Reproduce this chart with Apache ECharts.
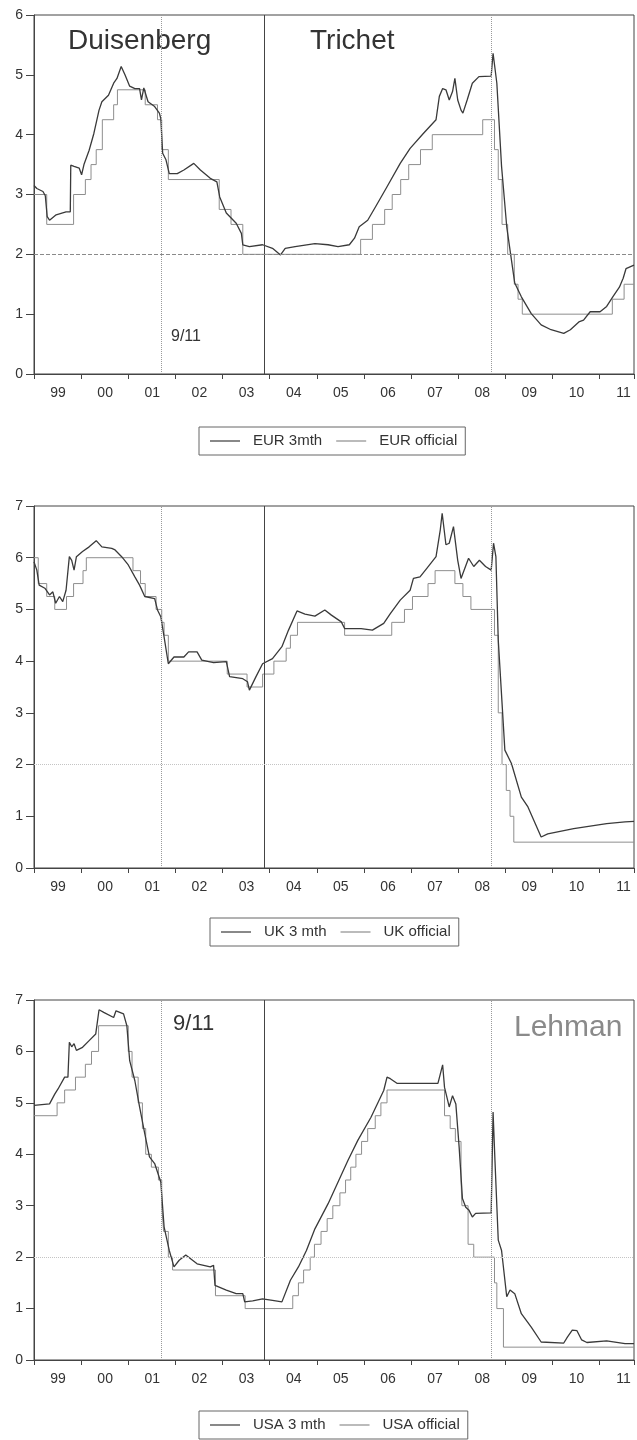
<!DOCTYPE html>
<html>
<head>
<meta charset="utf-8">
<script src="https://cdn.jsdelivr.net/npm/echarts@6/dist/echarts.min.js"></script>
<style>
  html, body { margin: 0; padding: 0; background: #fff; }
  #chart { width: 637px; height: 1440px; }
</style>
</head>
<body>
<div id="chart"></div>
<script>
// x = decimal year, y = rate in %
const yearTicks = ['99', '00', '01', '02', '03', '04', '05', '06', '07', '08', '09', '10', '11'];

const eur3mth = [[1999.00,3.15],[1999.06,3.10],[1999.19,3.05],[1999.24,2.98],[1999.28,2.63],[1999.33,2.57],[1999.47,2.66],[1999.68,2.71],[1999.77,2.71],[1999.78,3.49],
  [1999.85,3.47],[1999.96,3.44],[2000.01,3.33],[2000.06,3.50],[2000.17,3.74],[2000.27,4.02],[2000.38,4.41],[2000.44,4.55],[2000.58,4.66],[2000.69,4.86],
  [2000.76,4.94],[2000.85,5.14],[2000.93,5.00],[2001.03,4.81],[2001.14,4.77],[2001.24,4.77],[2001.28,4.58],[2001.33,4.78],[2001.35,4.80],[2001.42,4.55],
  [2001.56,4.47],[2001.66,4.36],[2001.69,4.27],[2001.73,3.69],[2001.80,3.58],[2001.87,3.35],[2002.04,3.35],[2002.18,3.41],[2002.39,3.52],[2002.53,3.41],
  [2002.74,3.27],[2002.88,3.21],[2002.94,2.96],[2003.08,2.69],[2003.29,2.52],[2003.40,2.35],[2003.43,2.16],[2003.57,2.13],[2003.85,2.16],[2004.06,2.10],
  [2004.23,1.99],[2004.33,2.10],[2004.54,2.13],[2004.96,2.18],[2005.24,2.16],[2005.45,2.13],[2005.69,2.16],[2005.80,2.27],[2005.90,2.46],[2006.08,2.57],
  [2006.25,2.80],[2006.49,3.13],[2006.77,3.52],[2006.98,3.77],[2007.26,4.02],[2007.53,4.25],[2007.60,4.64],[2007.67,4.77],[2007.74,4.75],[2007.81,4.58],
  [2007.88,4.72],[2007.93,4.94],[2007.99,4.58],[2008.06,4.41],[2008.10,4.36],[2008.19,4.58],[2008.30,4.86],[2008.44,4.97],[2008.70,4.98],[2008.74,5.36],
  [2008.77,5.39],[2008.82,4.86],[2008.92,3.47],[2009.03,2.46],[2009.10,2.07],[2009.20,1.52],[2009.34,1.29],[2009.55,1.01],[2009.76,0.82],[2009.97,0.74],
  [2010.24,0.68],[2010.38,0.74],[2010.56,0.87],[2010.66,0.90],[2010.80,1.04],[2011.01,1.04],[2011.15,1.13],[2011.28,1.29],[2011.42,1.45],[2011.50,1.60],
  [2011.56,1.76],[2011.73,1.82]];

// official rates: [date of change, new rate]
const eurOfficial = [[1999.00,3.00],[1999.27,2.50],[1999.84,3.00],[2000.09,3.25],[2000.21,3.50],[2000.32,3.75],[2000.45,4.25],[2000.69,4.50],[2000.77,4.75],
  [2001.36,4.50],[2001.62,4.25],[2001.71,3.75],[2001.85,3.25],[2002.93,2.75],[2003.18,2.50],[2003.43,2.00],[2005.93,2.25],[2006.18,2.50],[2006.44,2.75],
  [2006.60,3.00],[2006.78,3.25],[2006.95,3.50],[2007.20,3.75],[2007.45,4.00],[2008.52,4.25],[2008.77,3.75],[2008.85,3.25],[2008.93,2.50],[2009.05,2.00],
  [2009.19,1.50],[2009.27,1.25],[2009.36,1.00],[2011.27,1.25],[2011.52,1.50],[2011.73,1.50]];

const uk3mth = [[1999.00,5.92],[1999.06,5.76],[1999.11,5.47],[1999.23,5.41],[1999.33,5.28],[1999.40,5.34],[1999.46,5.12],[1999.54,5.25],[1999.61,5.15],[1999.68,5.37],
  [1999.75,6.02],[1999.80,5.95],[1999.85,5.76],[1999.90,6.02],[2000.03,6.12],[2000.17,6.21],[2000.32,6.33],[2000.44,6.21],[2000.65,6.18],[2000.72,6.15],
  [2000.86,6.02],[2001.00,5.86],[2001.14,5.63],[2001.24,5.47],[2001.35,5.25],[2001.56,5.21],[2001.62,4.99],[2001.69,4.86],[2001.76,4.47],[2001.85,3.95],
  [2001.97,4.08],[2002.18,4.08],[2002.28,4.18],[2002.46,4.18],[2002.56,4.02],[2002.81,3.97],[2003.08,3.99],[2003.15,3.70],[2003.43,3.66],[2003.53,3.60],
  [2003.57,3.44],[2003.71,3.70],[2003.85,3.95],[2004.06,4.05],[2004.26,4.28],[2004.40,4.60],[2004.58,4.97],[2004.75,4.91],[2004.96,4.87],[2005.17,4.99],
  [2005.31,4.89],[2005.52,4.76],[2005.59,4.63],[2005.94,4.63],[2006.18,4.60],[2006.42,4.73],[2006.56,4.92],[2006.77,5.18],[2006.98,5.37],[2007.05,5.60],
  [2007.19,5.63],[2007.33,5.79],[2007.53,6.02],[2007.62,6.54],[2007.66,6.86],[2007.74,6.25],[2007.81,6.28],[2007.90,6.60],[2007.99,5.95],[2008.06,5.60],
  [2008.22,5.99],[2008.33,5.83],[2008.45,5.95],[2008.58,5.83],[2008.70,5.76],[2008.75,6.28],[2008.80,6.02],[2008.85,4.41],[2008.99,2.28],[2009.13,2.02],
  [2009.34,1.37],[2009.48,1.18],[2009.76,0.60],[2009.90,0.66],[2010.45,0.76],[2011.15,0.86],[2011.54,0.89],[2011.73,0.90]];

const ukOfficial = [[1999.00,6.00],[1999.09,5.50],[1999.27,5.25],[1999.44,5.00],[1999.69,5.25],[1999.84,5.50],[2000.04,5.75],[2000.11,6.00],[2001.10,5.75],
  [2001.26,5.50],[2001.36,5.25],[2001.59,5.00],[2001.71,4.75],[2001.76,4.50],[2001.85,4.00],[2003.10,3.75],[2003.52,3.50],[2003.85,3.75],[2004.09,4.00],
  [2004.35,4.25],[2004.44,4.50],[2004.59,4.75],[2005.59,4.50],[2006.59,4.75],[2006.86,5.00],[2007.03,5.25],[2007.36,5.50],[2007.51,5.75],[2007.93,5.50],
  [2008.10,5.25],[2008.27,5.00],[2008.77,4.50],[2008.85,3.00],[2008.93,2.00],[2009.02,1.50],[2009.10,1.00],[2009.18,0.50],[2011.73,0.50]];

const usa3mth = [[1999.00,4.95],[1999.33,4.98],[1999.44,5.17],[1999.51,5.27],[1999.65,5.50],[1999.72,5.50],[1999.75,6.18],[1999.80,6.09],[1999.85,6.15],[1999.90,6.02],
  [2000.03,6.08],[2000.17,6.21],[2000.31,6.34],[2000.38,6.81],[2000.48,6.76],[2000.69,6.66],[2000.74,6.79],[2000.90,6.73],[2000.97,6.50],[2001.03,5.82],
  [2001.14,5.43],[2001.24,4.92],[2001.35,4.40],[2001.45,3.95],[2001.56,3.82],[2001.69,3.46],[2001.76,2.59],[2001.87,2.13],[2001.97,1.81],[2002.08,1.94],
  [2002.22,2.04],[2002.46,1.87],[2002.74,1.81],[2002.81,1.84],[2002.84,1.45],[2003.08,1.36],[2003.29,1.29],[2003.43,1.29],[2003.47,1.13],[2003.64,1.15],
  [2003.85,1.19],[2004.06,1.16],[2004.26,1.13],[2004.44,1.55],[2004.61,1.81],[2004.78,2.13],[2004.96,2.55],[2005.24,3.04],[2005.66,3.88],[2005.87,4.27],
  [2006.15,4.72],[2006.42,5.24],[2006.49,5.50],[2006.56,5.47],[2006.70,5.38],[2007.57,5.38],[2007.62,5.56],[2007.67,5.74],[2007.71,5.30],[2007.81,4.92],
  [2007.88,5.14],[2007.95,4.98],[2008.02,4.14],[2008.09,3.14],[2008.16,2.97],[2008.23,2.91],[2008.30,2.78],[2008.37,2.85],[2008.70,2.86],[2008.74,4.82],
  [2008.78,3.88],[2008.85,2.33],[2008.92,2.13],[2009.03,1.23],[2009.10,1.36],[2009.20,1.29],[2009.34,0.90],[2009.55,0.64],[2009.76,0.35],[2010.24,0.33],
  [2010.32,0.45],[2010.42,0.58],[2010.52,0.57],[2010.62,0.39],[2010.73,0.34],[2011.15,0.37],[2011.54,0.32],[2011.73,0.32]];

const usaOfficial = [[1999.00,4.75],[1999.49,5.00],[1999.65,5.25],[1999.88,5.50],[2000.09,5.75],[2000.22,6.00],[2000.37,6.50],[2001.00,6.00],[2001.08,5.50],
  [2001.21,5.00],[2001.30,4.50],[2001.37,4.00],[2001.49,3.75],[2001.64,3.50],[2001.71,3.00],[2001.75,2.50],[2001.85,2.00],[2001.94,1.75],[2002.85,1.25],
  [2003.48,1.00],[2004.49,1.25],[2004.61,1.50],[2004.72,1.75],[2004.86,2.00],[2004.95,2.25],[2005.09,2.50],[2005.22,2.75],[2005.34,3.00],[2005.49,3.25],
  [2005.61,3.50],[2005.72,3.75],[2005.83,4.00],[2005.95,4.25],[2006.08,4.50],[2006.24,4.75],[2006.36,5.00],[2006.49,5.25],[2007.71,4.75],[2007.83,4.50],
  [2007.94,4.25],[2008.06,3.50],[2008.08,3.00],[2008.21,2.25],[2008.33,2.00],[2008.77,1.50],[2008.82,1.00],[2008.96,0.25],[2011.73,0.25]];

// event dates
const sept11 = 2001.71;
const trichetStart = 2003.875;
const lehman = 2008.71;

// plot runs past the right edge of the page, like the cropped original
const xMin = 1999;
const xMax = 2011.73;

const panels = [
  { names: ['EUR 3mth', 'EUR official'], mth: eur3mth, off: eurOfficial, ymax: 6, top: 15, height: 359, legendLeft: 199, legendTop: 427, refDash: 'dashed', refColor: '#8a8a8a' },
  { names: ['UK 3 mth', 'UK official'], mth: uk3mth, off: ukOfficial, ymax: 7, top: 506, height: 362, legendLeft: 210, legendTop: 918, refDash: 'dotted', refColor: '#c4c4c4' },
  { names: ['USA 3 mth', 'USA official'], mth: usa3mth, off: usaOfficial, ymax: 7, top: 1000, height: 360, legendLeft: 199, legendTop: 1411, refDash: 'dotted', refColor: '#c4c4c4' }
];

const FONT = "'Liberation Sans', Arial, sans-serif";
const DARK = '#3a3a3a';
const LIGHT = '#8e8e8e';

const option = {
  backgroundColor: '#fff',
  animation: false,
  textStyle: { fontFamily: FONT },
  grid: panels.map(p => ({
    left: 34, width: 611, top: p.top, height: p.height,
    show: true, borderColor: '#444', borderWidth: 1, containLabel: false
  })),
  xAxis: panels.map((p, i) => ({
    type: 'value', gridIndex: i, min: xMin, max: xMax, interval: 1,
    axisLine: { lineStyle: { color: '#444' } },
    axisTick: { length: 5, lineStyle: { color: '#444' } },
    splitLine: { show: false },
    axisLabel: {
      color: '#333', fontSize: 14, margin: 12, padding: [0, 0, 0, 48],
      formatter: v => Number.isInteger(v) ? (yearTicks[v - 1999] || '') : ''
    }
  })),
  yAxis: panels.map((p, i) => ({
    type: 'value', gridIndex: i, min: 0, max: p.ymax, interval: 1,
    axisLine: { show: true, lineStyle: { color: '#444' } },
    axisTick: { show: true, length: 8, lineStyle: { color: '#444' } },
    splitLine: { show: false },
    axisLabel: { color: '#333', fontSize: 14, margin: 11 }
  })),
  legend: panels.map(p => ({
    left: p.legendLeft, top: p.legendTop,
    data: p.names, orient: 'horizontal',
    icon: 'rect', itemWidth: 30, itemHeight: 1.2, itemGap: 14,
    borderColor: '#666', borderWidth: 1, padding: [6, 8, 6, 11],
    textStyle: { fontSize: 15, color: '#333', fontFamily: FONT, lineHeight: 16, padding: [0, 0, 0, 8] }
  })),
  series: [],
  graphic: [
    { type: 'text', left: 68, top: 27, style: { text: 'Duisenberg', fontSize: 28, fontFamily: FONT, fill: '#333' } },
    { type: 'text', left: 310, top: 27, style: { text: 'Trichet', fontSize: 28, fontFamily: FONT, fill: '#333' } },
    { type: 'text', left: 171, top: 329, style: { text: '9/11', fontSize: 16, fontFamily: FONT, fill: '#333' } },
    { type: 'text', left: 173, top: 1013, style: { text: '9/11', fontSize: 22, fontFamily: FONT, fill: '#333' } },
    { type: 'text', left: 514, top: 1013, style: { text: 'Lehman', fontSize: 30, fontFamily: FONT, fill: '#8a8a8a' } }
  ]
};

panels.forEach((p, i) => {
  option.series.push({
    name: p.names[1], type: 'line', xAxisIndex: i, yAxisIndex: i,
    data: p.off, step: 'end', showSymbol: false, symbol: 'none',
    lineStyle: { color: LIGHT, width: 1 }, itemStyle: { color: LIGHT }, z: 2
  });
  option.series.push({
    name: p.names[0], type: 'line', xAxisIndex: i, yAxisIndex: i,
    data: p.mth, showSymbol: false, symbol: 'none',
    lineStyle: { color: DARK, width: 1.3 }, itemStyle: { color: DARK }, z: 3,
    markLine: {
      silent: true, symbol: 'none', label: { show: false }, animation: false,
      data: [
        { xAxis: sept11, lineStyle: { color: '#9a9a9a', type: 'dotted', width: 1 } },
        { xAxis: trichetStart, lineStyle: { color: '#444', type: 'solid', width: 1 } },
        { xAxis: lehman, lineStyle: { color: '#9a9a9a', type: 'dotted', width: 1 } },
        { yAxis: 2, lineStyle: { color: p.refColor, type: p.refDash, width: 1 } }
      ]
    }
  });
});

const chart = echarts.init(document.getElementById('chart'), null, { renderer: 'canvas' });
chart.setOption(option);
</script>
</body>
</html>
